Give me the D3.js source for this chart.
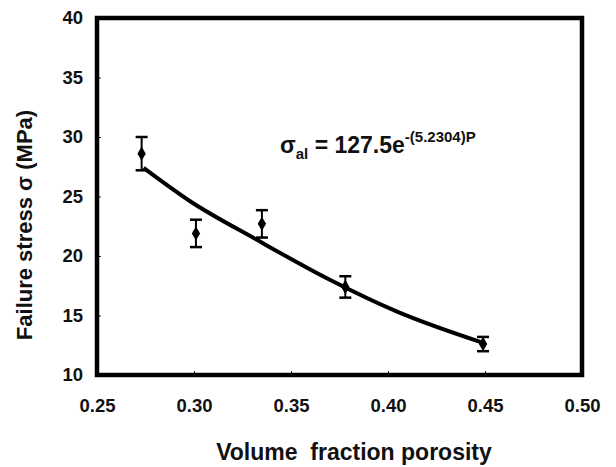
<!DOCTYPE html>
<html>
<head>
<meta charset="utf-8">
<script src="https://cdn.jsdelivr.net/npm/d3@7"></script>
<style>
  body { margin: 0; background: #fff; }
  text { font-family: "Liberation Sans", Arial, sans-serif; font-weight: bold; fill: #111; }
</style>
</head>
<body>
<div id="chart"></div>
<script>
// measured points (porosity, failure stress, error bar half-height)
const porosity = [0.273, 0.301, 0.335, 0.378, 0.449];
const stress = [28.6, 21.9, 22.7, 17.4, 12.6];
const stressErr = [1.4, 1.15, 1.15, 0.9, 0.6];

// fitted curve as drawn
const fitP = [0.274, 0.298, 0.332, 0.370, 0.405, 0.449];
const fitS = [27.4, 24.6, 21.4, 18.0, 15.3, 12.7];

const xTicks = [0.25, 0.30, 0.35, 0.40, 0.45, 0.50];
const yTicks = [10, 15, 20, 25, 30, 35, 40];

const W = 616, H = 467;
const margin = { top: 18, right: 34, bottom: 92, left: 97 };
const width = W - margin.left - margin.right;
const height = H - margin.top - margin.bottom;

const svg = d3.select('#chart').append('svg')
  .attr('width', W)
  .attr('height', H);

const g = svg.append('g')
  .attr('transform', `translate(${margin.left},${margin.top})`);

const x = d3.scaleLinear().domain([0.25, 0.50]).range([0, width]);
const y = d3.scaleLinear().domain([10, 40]).range([height, 0]);

// inward ticks
g.append('g')
  .attr('transform', `translate(0,${height})`)
  .call(d3.axisBottom(x).tickValues(xTicks).tickFormat(d3.format('.2f')).tickSizeInner(-4).tickSizeOuter(0).tickPadding(24))
  .call(a => a.select('.domain').remove())
  .call(a => a.selectAll('text').style('font-size', '18.5px').style('font-family', '"Liberation Sans", Arial, sans-serif'));

g.append('g')
  .call(d3.axisLeft(y).tickValues(yTicks).tickSizeInner(-4).tickSizeOuter(0).tickPadding(14))
  .call(a => a.select('.domain').remove())
  .call(a => a.selectAll('text').style('font-size', '18.5px').style('font-family', '"Liberation Sans", Arial, sans-serif'));

g.selectAll('.tick line').attr('stroke', '#222').attr('stroke-width', 1);

// frame
g.append('rect')
  .attr('x', 0).attr('y', 0)
  .attr('width', width).attr('height', height)
  .attr('fill', 'none')
  .attr('stroke', '#000')
  .attr('stroke-width', 4.5);

// fit curve
const fit = fitP.map((p, i) => [p, fitS[i]]);
g.append('path')
  .datum(fit)
  .attr('fill', 'none')
  .attr('stroke', '#000')
  .attr('stroke-width', 4)
  .attr('d', d3.line().x(d => x(d[0])).y(d => y(d[1])).curve(d3.curveMonotoneX));

// error bars
const pts = porosity.map((p, i) => ({ p, s: stress[i], e: stressErr[i] }));
const eb = g.selectAll('.err').data(pts).enter().append('g').attr('class', 'err');
eb.append('line')
  .attr('x1', d => x(d.p)).attr('x2', d => x(d.p))
  .attr('y1', d => y(d.s + d.e)).attr('y2', d => y(d.s - d.e))
  .attr('stroke', '#000').attr('stroke-width', 2);
[1, -1].forEach(sg => {
  eb.append('line')
    .attr('x1', d => x(d.p) - 6).attr('x2', d => x(d.p) + 6)
    .attr('y1', d => y(d.s + sg * d.e)).attr('y2', d => y(d.s + sg * d.e))
    .attr('stroke', '#000').attr('stroke-width', 2.5);
});

// diamonds
g.selectAll('.pt').data(pts).enter().append('path')
  .attr('class', 'pt')
  .attr('transform', d => `translate(${x(d.p)},${y(d.s)})`)
  .attr('d', d3.symbol().type(d3.symbolDiamond).size(60))
  .attr('fill', '#000');

// axis titles
svg.append('text')
  .attr('x', 354).attr('y', 460)
  .attr('text-anchor', 'middle')
  .style('font-size', '23px')
  .attr('xml:space', 'preserve')
  .text('Volume  fraction porosity');

svg.append('text')
  .attr('transform', 'translate(32,225) rotate(-90)')
  .attr('text-anchor', 'middle')
  .style('font-size', '22px')
  .text('Failure stress σ (MPa)');

// equation
const eq = svg.append('text')
  .attr('x', 280).attr('y', 153)
  .style('font-size', '23px');
eq.append('tspan').text('σ');
eq.append('tspan').attr('dy', 6).style('font-size', '15px').text('al');
eq.append('tspan').attr('dy', -6).text(' = 127.5e');
eq.append('tspan').attr('dy', -11).style('font-size', '15px').text('-(5.2304)P');
</script>
</body>
</html>
